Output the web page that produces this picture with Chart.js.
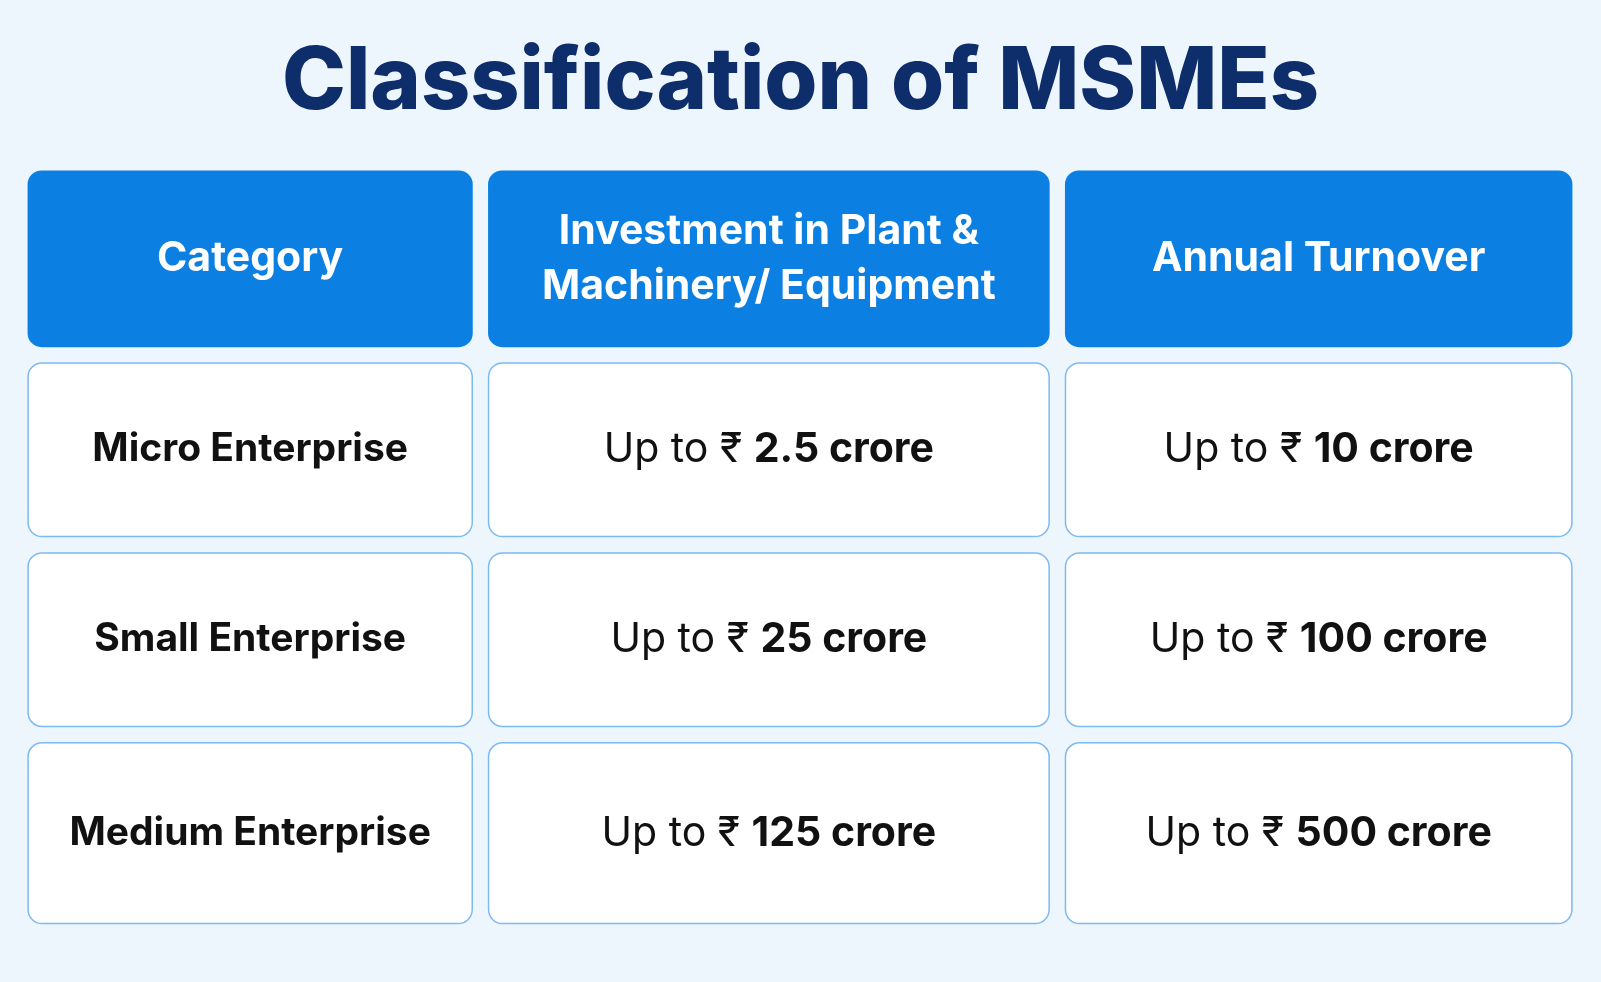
<!DOCTYPE html>
<html><head><meta charset="utf-8">
<script src="https://cdn.jsdelivr.net/npm/chart.js@4"></script>
<style>html,body{margin:0;padding:0;background:#eef6fd;}canvas{display:block}</style>
</head><body>
<canvas id="c" width="1601" height="982"></canvas>
<script>
const title = "Classification of MSMEs";
const headers = ["Category", "Investment in Plant &\nMachinery/ Equipment", "Annual Turnover"];
const categories = ["Micro Enterprise", "Small Enterprise", "Medium Enterprise"];
const investment = ["2.5", "25", "125"];
const turnover = ["10", "100", "500"];
const prefix = "Up to \u20B9 ";
const suffix = " crore";

const FONT = "Inter, 'Noto Sans', 'DejaVu Sans', sans-serif";
const S = 1601/1568;
const colEdges = [[27,463],[478,1028],[1043,1540]].map(a=>a.map(v=>v*S));
const rowEdges = [[167,340],[355,526],[541,712],[727,905]].map(a=>a.map(v=>v*S));

function rr(ctx,x,y,w,h,r){ctx.beginPath();ctx.roundRect(x,y,w,h,r);}

const tablePlugin = {
  id:'table',
  beforeDraw(chart){
    const ctx=chart.ctx;
    ctx.save();ctx.fillStyle='#eef6fd';ctx.fillRect(0,0,chart.width,chart.height);ctx.restore();
  },
  afterDraw(chart){
    const ctx=chart.ctx;
    ctx.save();
    ctx.textAlign='center';ctx.textBaseline='middle';
    headers.forEach((h,c)=>{
      const [x0,x1]=colEdges[c],[y0,y1]=rowEdges[0];
      rr(ctx,x0,y0,x1-x0,y1-y0,14);ctx.fillStyle='#0b7fe2';ctx.fill();
      ctx.fillStyle='#ffffff';ctx.font='700 41px '+FONT;
      const lines=h.split('\n');const lh=55;
      lines.forEach((l,i)=>ctx.fillText(l,(x0+x1)/2,(y0+y1)/2+(i-(lines.length-1)/2)*lh));
    });
    const cols=[categories,investment,turnover];
    categories.forEach((_,r)=>{
      const [y0,y1]=rowEdges[r+1];const cy=(y0+y1)/2;
      for(let c=0;c<3;c++){
        const [x0,x1]=colEdges[c];
        rr(ctx,x0+0.5,y0+0.5,x1-x0-1,y1-y0-1,14);
        ctx.fillStyle='#ffffff';ctx.fill();ctx.strokeStyle='#7db9f2';ctx.lineWidth=1.5;ctx.stroke();
        const cx=(x0+x1)/2;
        if(c===0){
          ctx.fillStyle='#111111';ctx.font='700 39px '+FONT;ctx.textAlign='center';
          ctx.fillText(categories[r],cx,cy);
        } else {
          const bold=cols[c][r]+suffix;
          ctx.font='400 41px '+FONT;const w1=ctx.measureText(prefix).width;
          ctx.font='700 41px '+FONT;const w2=ctx.measureText(bold).width;
          let sx=cx-(w1+w2)/2;
          ctx.textAlign='left';ctx.fillStyle='#111111';
          ctx.font='400 41px '+FONT;ctx.fillText(prefix,sx,cy);
          ctx.font='700 41px '+FONT;ctx.fillText(bold,sx+w1,cy);
          ctx.textAlign='center';
        }
      }
    });
    ctx.restore();
  }
};

new Chart(document.getElementById('c'),{
  type:'bar',
  data:{labels:headers,datasets:[{data:[],label:''}]},
  options:{
    responsive:false,animation:false,devicePixelRatio:1,
    layout:{padding:{top:22}},
    plugins:{
      legend:{display:false},tooltip:{enabled:false},
      title:{display:true,text:title,color:'#0d2d6b',font:{family:FONT,size:86,weight:'800'},padding:{top:10,bottom:20}}
    },
    scales:{x:{display:false},y:{display:false}}
  },
  plugins:[tablePlugin]
});
</script>
</body></html>
